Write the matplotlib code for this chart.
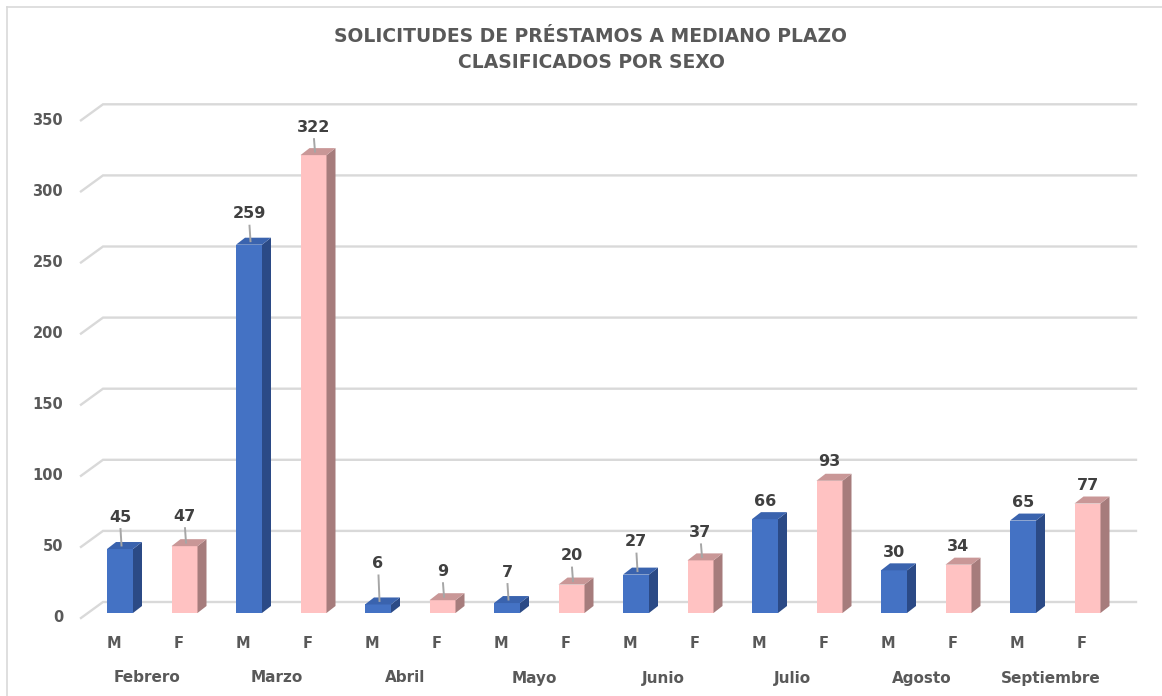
import matplotlib
matplotlib.use("Agg")
import matplotlib.pyplot as plt
from matplotlib.patches import Polygon
from matplotlib.lines import Line2D

months = ["Febrero", "Marzo", "Abril", "Mayo", "Junio", "Julio", "Agosto", "Septiembre"]
sexes = ["M", "F"]
hombres = [45, 259, 6, 7, 27, 66, 30, 65]
mujeres = [47, 322, 9, 20, 37, 93, 34, 77]
y_ticks = [0, 50, 100, 150, 200, 250, 300, 350]

# label lift above bar top (px) as placed in the original
lift_m = [32, 31, 41, 31, 33, 18, 18, 18]
lift_f = [30, 28, 29, 29, 28, 19, 18, 18]

W, H = 1162, 696
fig = plt.figure(figsize=(W / 100, H / 100), dpi=100)
plt.rcParams['font.family'] = ['DejaVu Sans']

# pixel layout of the bar front plane
x0_px, step_px = 120, 64.5
y0_px, unit_px = 613, 1.422

ax = fig.add_axes([0, 0, 1, 1])
ax.set_xlim((0 - x0_px) / step_px, (W - x0_px) / step_px)
ax.set_ylim((y0_px - H) / unit_px, y0_px / unit_px)
ax.axis("off")


def px_x(px):
    return (px - x0_px) / step_px


def px_y(py):
    return (y0_px - py) / unit_px


def dx(p):
    return p / step_px


def dy(p):
    return p / unit_px


grid_c = "#d9d9d9"
txt_c = "#595959"
lbl_c = "#404040"

# floor/back wall gridlines in perspective
for v in y_ticks:
    yf = v - dy(5)
    yb = v + dy(11)
    ax.plot([px_x(81), px_x(103), px_x(1136)], [yf, yb, yb],
            color=grid_c, lw=1.7, zorder=1, solid_joinstyle="miter")
    ax.text(px_x(63), yf, str(v), ha="right", va="center",
            fontsize=10.5, fontweight="bold", color=txt_c)

values, colors, lifts = [], [], []
for m_val, f_val, lm, lf in zip(hombres, mujeres, lift_m, lift_f):
    values += [m_val, f_val]
    lifts += [lm, lf]
    colors += [("#4472C4", "#3A63AE", "#2B4A86"), ("#FFC2C2", "#C99797", "#A67C7C")]
names = sexes * len(months)

pos = list(range(len(values)))
bw = dx(26)
ddx, ddy = dx(9), dy(7)

for x, v, (front, top, side), lift, nm in zip(pos, values, colors, lifts, names):
    ax.bar(x, v, width=bw, color=front, linewidth=0, zorder=3)
    xr = x + bw / 2
    xl = x - bw / 2
    ax.add_patch(Polygon([(xr, 0), (xr + ddx, ddy), (xr + ddx, v + ddy), (xr, v)],
                         closed=True, facecolor=side, edgecolor="none", zorder=3))
    ax.add_patch(Polygon([(xl, v), (xr, v), (xr + ddx, v + ddy), (xl + ddx, v + ddy)],
                         closed=True, facecolor=top, edgecolor="none", zorder=3))
    ly = v + dy(lift)
    ax.text(x, ly, str(v), ha="center", va="center", fontsize=11.5,
            fontweight="bold", color=lbl_c, zorder=5)
    if lift > 22:
        ax.plot([x + dx(0.5), x + dx(1.5)], [ly - dy(12), v + ddy / 2],
                color="#a6a6a6", lw=1.4, zorder=4)
    ax.text(x - dx(6), px_y(643), nm, ha="center", va="center",
            fontsize=10.5, fontweight="bold", color=txt_c)

for i, mname in enumerate(months):
    xc = (pos[2 * i] + pos[2 * i + 1]) / 2 - dx(5)
    ax.text(xc, px_y(678), mname, ha="center", va="center",
            fontsize=11, fontweight="bold", color=txt_c)

fig.text(590 / W, 1 - 36 / H, "SOLICITUDES DE PRÉSTAMOS A MEDIANO PLAZO",
         ha="center", va="center", fontsize=13.5, fontweight="bold", color=txt_c)
fig.text(592 / W, 1 - 63 / H, "CLASIFICADOS POR SEXO",
         ha="center", va="center", fontsize=13.5, fontweight="bold", color=txt_c)

# chart outline (cropped on the right and bottom)
fig.add_artist(Line2D([7 / W, 7 / W], [0, 1 - 7 / H], color=grid_c, lw=1.2))
fig.add_artist(Line2D([7 / W, 1], [1 - 7 / H, 1 - 7 / H], color=grid_c, lw=1.2))

fig.savefig("out.png", dpi=100)
